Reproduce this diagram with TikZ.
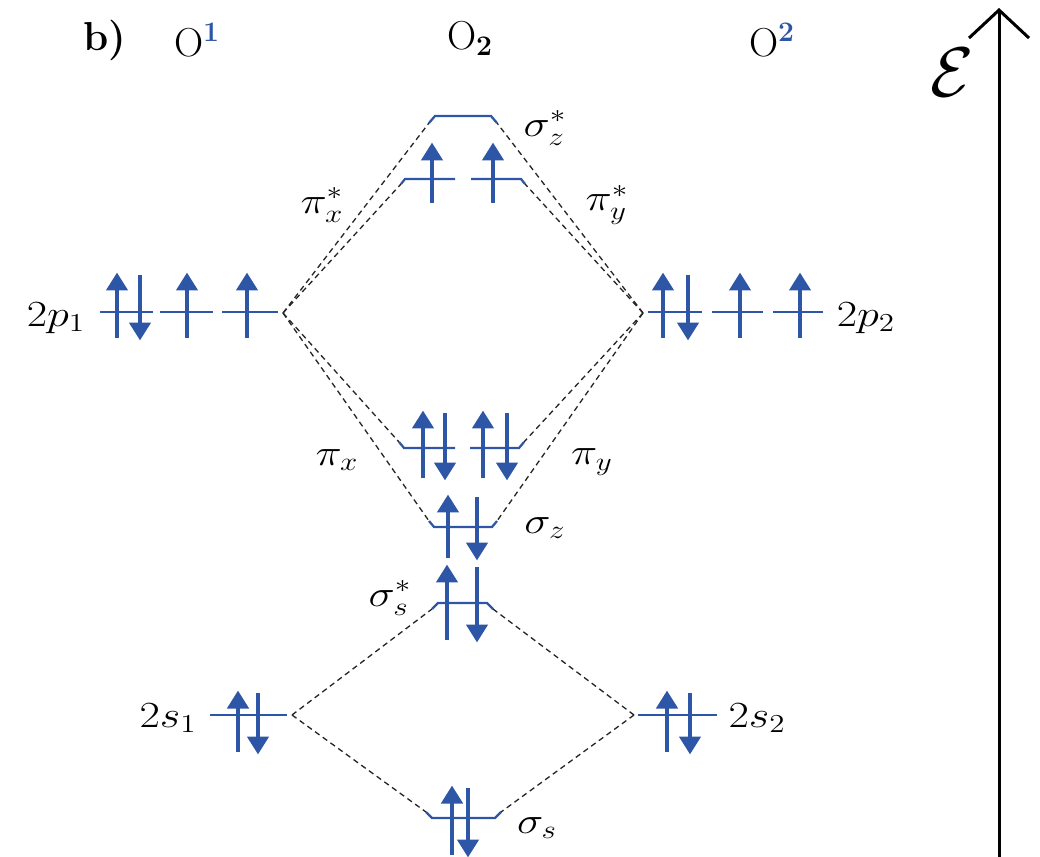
\RequirePackage{fix-cm}
\documentclass[tikz,border=0pt]{standalone}
\usepackage{amsmath}
\usetikzlibrary{arrows.meta}
\definecolor{eblue}{RGB}{46,86,166}
\newcommand\wide[1]{\scalebox{1.2}[1]{#1}}
\newcommand\upe[3]{\draw[elec] (#1,#2) -- (#1,#3);}
\tikzset{
  lvl/.style={draw=eblue, line width=0.045cm},
  elec/.style={draw=eblue, line width=0.095cm, -{Triangle[length=0.36cm,width=0.42cm]}, shorten >=-0.05cm},
  conn/.style={draw=black!85, line width=0.75pt, dash pattern=on 0.11cm off 0.08cm},
  lab/.style={font=\fontsize{21}{25}\selectfont, inner sep=0pt},
  head/.style={font=\fontsize{23}{27}\selectfont, inner sep=0pt},
}
\begin{document}
\begin{tikzpicture}[x=0.02cm,y=-0.02cm]
\useasboundingbox (0,0) rectangle (1040,857);
% headers
\node[head] (hb) at (105,40) {\textbf{b)}};
\node[head] (ho1) at (197,40) {O\textsuperscript{\textcolor{eblue}{\textbf{1}}}};
\node[head] (ho2) at (470,38) {O\textsubscript{\textbf{2}}};
\node[head] (ho3) at (772,40) {O\textsuperscript{\textcolor{eblue}{\textbf{2}}}};
% energy axis
\coordinate (ebot) at (999,857);
\coordinate (etop) at (999,8);
\draw[line width=0.06cm, -{Straight Barb[length=0.56cm,width=1.2cm,line width=0.06cm]}] (ebot) -- (etop);
\node[inner sep=0pt, font=\fontsize{40}{44}\selectfont] (elab) at (952,72) {$\mathcal{E}$};
% levels
\draw[lvl] (429,123) -- (435,116) -- (491,116) -- (497,123);
\coordinate (szsL) at (429,123); \coordinate (szsR) at (497,123);
\draw[lvl] (401,184) -- (405,179) -- (455,179);
\draw[lvl] (471,179) -- (521,179) -- (525,184);
\coordinate (pxsL) at (401,184); \coordinate (pysR) at (525,184);
\draw[lvl] (100,312) -- (153,312);
\draw[lvl] (160,312) -- (213,312);
\draw[lvl] (222,312) -- (278,312);
\coordinate (p1) at (283,313);
\draw[lvl] (648,312) -- (702,312);
\draw[lvl] (712,312) -- (763,312);
\draw[lvl] (773,312) -- (823,312);
\coordinate (p2) at (643,313);
\draw[lvl] (399,442) -- (404,448) -- (455,448);
\draw[lvl] (470,448) -- (519,448) -- (524,442);
\coordinate (pxL) at (399,442); \coordinate (pyR) at (524,442);
\draw[lvl] (429,521) -- (434,527) -- (492,527) -- (497,521);
\coordinate (szL) at (429,521); \coordinate (szR) at (497,521);
\draw[lvl] (432,609) -- (438,603) -- (487,603) -- (493,609);
\coordinate (sssL) at (432,609); \coordinate (sssR) at (493,609);
\draw[lvl] (210,715) -- (287,715);
\coordinate (s1) at (292,715);
\draw[lvl] (638,715) -- (717,715);
\coordinate (s2) at (634,715);
\draw[lvl] (426,812) -- (432,818) -- (495,818) -- (501,812);
\coordinate (ssL) at (426,812); \coordinate (ssR) at (501,812);
% connectors
\draw[conn] (p1) -- (szsL);
\draw[conn] (p1) -- (pxsL);
\draw[conn] (p1) -- (pxL);
\draw[conn] (p1) -- (szL);
\draw[conn] (p2) -- (szsR);
\draw[conn] (p2) -- (pysR);
\draw[conn] (p2) -- (pyR);
\draw[conn] (p2) -- (szR);
\draw[conn] (s1) -- (sssL);
\draw[conn] (s1) -- (ssL);
\draw[conn] (s2) -- (sssR);
\draw[conn] (s2) -- (ssR);
% electrons
\upe{432}{203}{145} \upe{493}{203}{145}
\upe{117}{338}{275} \upe{140}{275}{338} \upe{187}{338}{275} \upe{247}{338}{275}
\upe{663}{338}{275} \upe{688}{275}{338} \upe{740}{338}{275} \upe{800}{338}{275}
\upe{423}{478}{413} \upe{445}{413}{478} \upe{483}{478}{413} \upe{507}{413}{478}
\upe{448}{558}{497} \upe{477}{497}{558}
\upe{447}{640}{567} \upe{477}{567}{640}
\upe{238}{752}{693} \upe{258}{693}{752}
\upe{667}{752}{693} \upe{690}{693}{752}
\upe{452}{855}{788} \upe{468}{788}{855}
% labels
\node[lab] (l2p1) at (56,318) {\wide{$2p_1$}};
\node[lab] (l2p2) at (866,318) {\wide{$2p_2$}};
\node[lab] (lszs) at (545,128) {\wide{$\sigma^{*}_{z}$}};
\node[lab] (lpxs) at (322,205) {\wide{$\pi^{*}_{x}$}};
\node[lab] (lpys) at (607,205) {\wide{$\pi^{*}_{y}$}};
\node[lab] (lpx) at (337,460) {\wide{$\pi_{x}$}};
\node[lab] (lpy) at (592,462) {\wide{$\pi_{y}$}};
\node[lab] (lsz) at (545,528) {\wide{$\sigma_{z}$}};
\node[lab] (lsss) at (390,598) {\wide{$\sigma^{*}_{s}$}};
\node[lab] (l2s1) at (168,718) {\wide{$2s_1$}};
\node[lab] (l2s2) at (757,718) {\wide{$2s_2$}};
\node[lab] (lss) at (537,828) {\wide{$\sigma_{s}$}};
\end{tikzpicture}
\end{document}
